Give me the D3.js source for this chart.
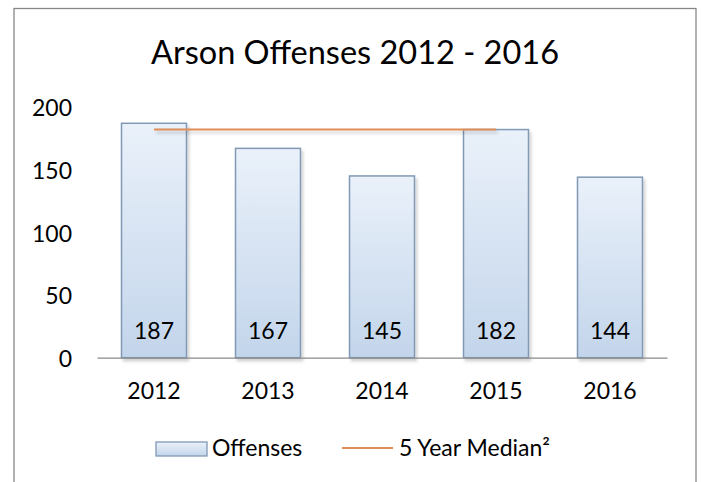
<!DOCTYPE html>
<html>
<head>
<meta charset="utf-8">
<script src="https://cdn.jsdelivr.net/npm/d3@7"></script>
<style>
  html, body { margin: 0; padding: 0; background: #fff; }
  svg { display: block; }
  text { font-family: Lato, "Open Sans", sans-serif; fill: #000; }
</style>
</head>
<body>
<svg id="chart" width="704" height="482"></svg>
<script>
// Arson offenses per year, with the 5-year median reference line
const years = ["2012", "2013", "2014", "2015", "2016"];
const offenses = [187, 167, 145, 182, 144];
const medianValues = [182, 182, 182, 182, null];
const yTicks = [0, 50, 100, 150, 200];
const titleText = "Arson Offenses 2012 - 2016";
const legendLabels = ["Offenses", "5 Year Median\u00B2"];

const svg = d3.select("#chart");
const W = 704, H = 482;
const labelSize = "23px";

const x = d3.scaleBand()
  .domain(years)
  .range([97, 667])
  .paddingInner(0.43)
  .paddingOuter(0.215);

const y = d3.scaleLinear()
  .domain([0, 200])
  .range([357.7, 107]);

const defs = svg.append("defs");
const grad = defs.append("linearGradient")
  .attr("id", "barFill")
  .attr("x1", 0).attr("y1", 0).attr("x2", 0).attr("y2", 1);
grad.append("stop").attr("offset", "0%").attr("stop-color", "#eaf1fa");
grad.append("stop").attr("offset", "100%").attr("stop-color", "#c3d5eb");

// soft drop shadow in user space so it also works on flat horizontal lines
const shadow = defs.append("filter")
  .attr("id", "softShadow")
  .attr("filterUnits", "userSpaceOnUse")
  .attr("x", 0).attr("y", 0)
  .attr("width", W).attr("height", H);
shadow.append("feDropShadow")
  .attr("dx", 2).attr("dy", 3)
  .attr("stdDeviation", 1.6)
  .attr("flood-color", "#000")
  .attr("flood-opacity", 0.18);

// outer chart frame (runs past the bottom edge)
svg.append("rect")
  .attr("x", 14).attr("y", 8.5)
  .attr("width", 682).attr("height", 500)
  .attr("fill", "#fff")
  .attr("stroke", "#878787")
  .attr("stroke-width", 1.3);

// title
svg.append("text")
  .attr("x", 355).attr("y", 64)
  .attr("text-anchor", "middle")
  .style("font-size", "32.5px")
  .text(titleText);

// y axis labels
const yAxis = d3.axisLeft(y)
  .tickValues(yTicks)
  .tickSize(0)
  .tickPadding(3)
  .tickFormat(d3.format("d"));
const gy = svg.append("g")
  .attr("transform", "translate(75,0)")
  .call(yAxis);
gy.select(".domain").remove();
gy.selectAll("text")
  .attr("dy", "0.38em")
  .style("font-size", labelSize)
  .style("font-family", "Lato, 'Open Sans', sans-serif")
  .attr("fill", "#000");

// bars
svg.append("g")
  .selectAll("rect")
  .data(offenses)
  .join("rect")
  .attr("x", (d, i) => x(years[i]))
  .attr("y", d => y(d))
  .attr("width", x.bandwidth())
  .attr("height", d => y(0) - y(d))
  .attr("fill", "url(#barFill)")
  .attr("stroke", "#8199b4")
  .attr("stroke-width", 1.5)
  .attr("filter", "url(#softShadow)");

// x axis
const xAxis = d3.axisBottom(x)
  .tickSize(0)
  .tickSizeOuter(0)
  .tickPadding(25);
const gx = svg.append("g")
  .attr("transform", `translate(0,${y(0)})`)
  .call(xAxis);
gx.select(".domain")
  .attr("stroke", "#8a8a8a")
  .attr("stroke-width", 1.3);
gx.selectAll("text")
  .style("font-size", labelSize)
  .style("font-family", "Lato, 'Open Sans', sans-serif")
  .attr("fill", "#000");

// value labels inside the base of each bar
svg.append("g")
  .selectAll("text")
  .data(offenses)
  .join("text")
  .attr("x", (d, i) => x(years[i]) + x.bandwidth() / 2)
  .attr("y", y(0) - 19)
  .attr("text-anchor", "middle")
  .style("font-size", labelSize)
  .text(d => d);

// median line
const line = d3.line()
  .defined(d => d != null)
  .x((d, i) => x(years[i]) + x.bandwidth() / 2)
  .y(d => y(d));
svg.append("path")
  .datum(medianValues)
  .attr("d", line)
  .attr("fill", "none")
  .attr("stroke", "#e08d58")
  .attr("stroke-width", 2)
  .attr("filter", "url(#softShadow)");

// legend
const lg = svg.append("g");
lg.append("rect")
  .attr("x", 156).attr("y", 442)
  .attr("width", 51).attr("height", 14)
  .attr("fill", "url(#barFill)")
  .attr("stroke", "#8199b4")
  .attr("stroke-width", 1.3);
lg.append("text")
  .attr("x", 212).attr("y", 456)
  .style("font-size", labelSize)
  .text(legendLabels[0]);
lg.append("line")
  .attr("x1", 342).attr("x2", 393)
  .attr("y1", 448).attr("y2", 448)
  .attr("stroke", "#e08d58")
  .attr("stroke-width", 2);
lg.append("text")
  .attr("x", 399).attr("y", 456)
  .style("font-size", labelSize)
  .text(legendLabels[1]);
</script>
</body>
</html>
